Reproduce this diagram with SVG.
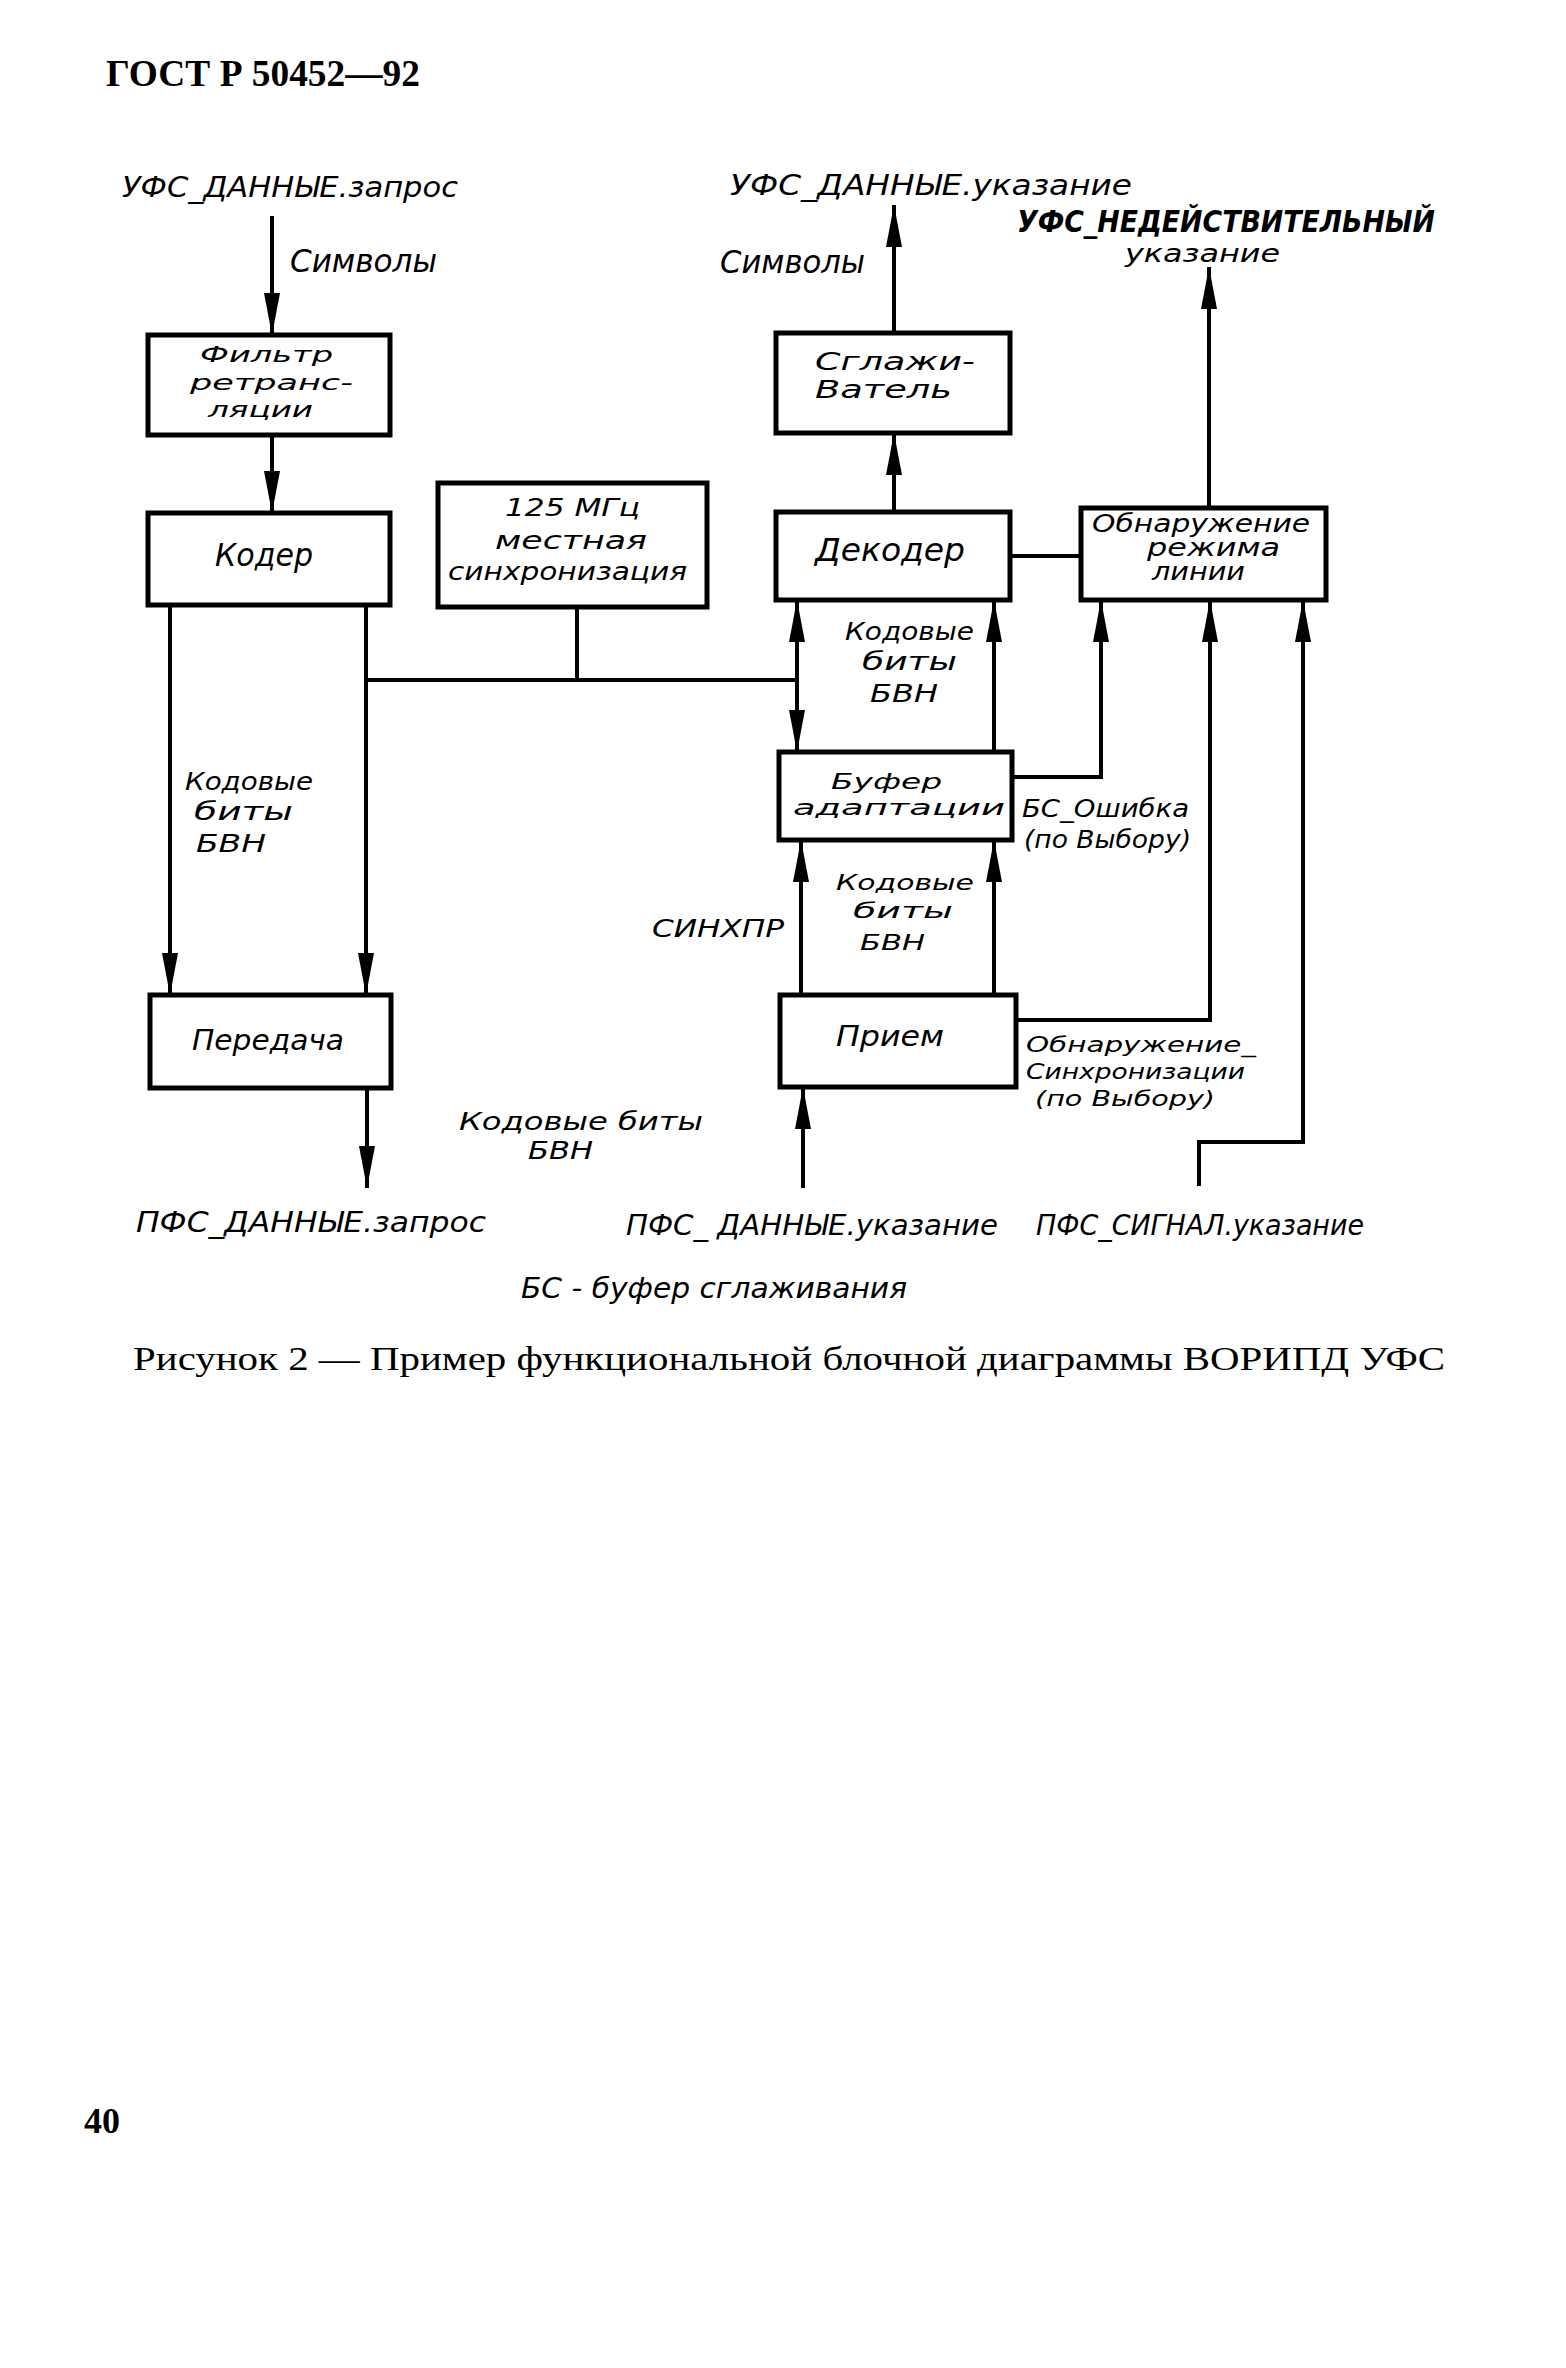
<svg xmlns="http://www.w3.org/2000/svg" width="1566" height="2368" viewBox="0 0 1566 2368">
<style>
.bg{fill:#fff}
.box{fill:none;stroke:#000;stroke-width:5}
.ln{fill:none;stroke:#000;stroke-width:4}
.t{font-family:"DejaVu Sans Condensed","Liberation Sans Narrow","Liberation Sans",sans-serif;font-style:italic;fill:#000;font-size:24px}
.m{font-size:28px}
.b{font-size:32px}
.s{font-size:22px}
.big{font-size:30px;font-weight:bold}
.serif{font-family:"Liberation Serif","DejaVu Serif",serif;fill:#000}
</style>
<defs>
<marker id="ah" viewBox="0 0 42 16" refX="42" refY="8" markerWidth="42" markerHeight="16" markerUnits="userSpaceOnUse" orient="auto">
<path d="M0,0 L42,8 L0,16 Z" fill="#000"/>
</marker>
</defs>
<rect class="bg" x="0" y="0" width="1566" height="2368"/>

<text class="serif" x="106" y="86" font-size="38" font-weight="bold" textLength="314" lengthAdjust="spacingAndGlyphs">ГОСТ Р 50452—92</text>

<g id="connectors">
<path class="ln" d="M272,216 V335" marker-end="url(#ah)"/>
<path class="ln" d="M272,435 V513" marker-end="url(#ah)"/>
<path class="ln" d="M170,605 V995" marker-end="url(#ah)"/>
<path class="ln" d="M366,605 V995" marker-end="url(#ah)"/>
<path class="ln" d="M577,607 V680"/>
<path class="ln" d="M366,680 H797"/>
<path class="ln" d="M367,1088 V1188" marker-end="url(#ah)"/>
<path class="ln" d="M797,680 V600" marker-end="url(#ah)"/>
<path class="ln" d="M797,680 V752" marker-end="url(#ah)"/>
<path class="ln" d="M994,752 V600" marker-end="url(#ah)"/>
<path class="ln" d="M1012,777 H1101 V600" marker-end="url(#ah)"/>
<path class="ln" d="M1016,1020 H1210 V600" marker-end="url(#ah)"/>
<path class="ln" d="M1199,1186 V1142 H1303 V600" marker-end="url(#ah)"/>
<path class="ln" d="M801,995 V840" marker-end="url(#ah)"/>
<path class="ln" d="M994,995 V840" marker-end="url(#ah)"/>
<path class="ln" d="M803,1188 V1087" marker-end="url(#ah)"/>
<path class="ln" d="M894,512 V433" marker-end="url(#ah)"/>
<path class="ln" d="M894,333 V205" marker-end="url(#ah)"/>
<path class="ln" d="M1010,556 H1081"/>
<path class="ln" d="M1209,508 V267" marker-end="url(#ah)"/>
</g>

<g id="filter">
<rect class="box" x="148" y="335" width="242" height="100"/>
<text class="t s" x="200" y="362" textLength="133" lengthAdjust="spacingAndGlyphs">Фильтр</text>
<text class="t s" x="190" y="390" textLength="163" lengthAdjust="spacingAndGlyphs">ретранс-</text>
<text class="t s" x="208" y="417" textLength="105" lengthAdjust="spacingAndGlyphs">ляции</text>
</g>

<g id="coder">
<rect class="box" x="148" y="513" width="242" height="92"/>
<text class="t b" x="215" y="566" textLength="98" lengthAdjust="spacingAndGlyphs">Кодер</text>
</g>

<g id="clock">
<rect class="box" x="438" y="483" width="269" height="124"/>
<text class="t" x="505" y="516" textLength="135" lengthAdjust="spacingAndGlyphs">125 МГц</text>
<text class="t" x="495" y="549" textLength="152" lengthAdjust="spacingAndGlyphs">местная</text>
<text class="t" x="448" y="580" textLength="239" lengthAdjust="spacingAndGlyphs">синхронизация</text>
</g>

<g id="transmit">
<rect class="box" x="150" y="995" width="241" height="93"/>
<text class="t m" x="192" y="1050" textLength="152" lengthAdjust="spacingAndGlyphs">Передача</text>
</g>

<g id="smoother">
<rect class="box" x="776" y="333" width="234" height="100"/>
<text class="t" x="815" y="370" textLength="160" lengthAdjust="spacingAndGlyphs">Сглажи-</text>
<text class="t" x="815" y="398" textLength="137" lengthAdjust="spacingAndGlyphs">Ватель</text>
</g>

<g id="decoder">
<rect class="box" x="776" y="512" width="234" height="88"/>
<text class="t b" x="815" y="561" textLength="150" lengthAdjust="spacingAndGlyphs">Декодер</text>
</g>

<g id="linemode">
<rect class="box" x="1081" y="508" width="245" height="92"/>
<text class="t" x="1092" y="532" font-size="20" textLength="218" lengthAdjust="spacingAndGlyphs">Обнаружение</text>
<text class="t" x="1147" y="556" font-size="20" textLength="133" lengthAdjust="spacingAndGlyphs">режима</text>
<text class="t" x="1152" y="580" font-size="20" textLength="93" lengthAdjust="spacingAndGlyphs">линии</text>
</g>

<g id="buffer">
<rect class="box" x="779" y="752" width="233" height="88"/>
<text class="t s" x="831" y="789" textLength="111" lengthAdjust="spacingAndGlyphs">Буфер</text>
<text class="t s" x="793" y="815" textLength="212" lengthAdjust="spacingAndGlyphs">адаптации</text>
</g>

<g id="receive">
<rect class="box" x="780" y="995" width="236" height="92"/>
<text class="t m" x="836" y="1046" textLength="108" lengthAdjust="spacingAndGlyphs">Прием</text>
</g>

<g id="labels">
<text class="t m" x="122" y="197" textLength="336" lengthAdjust="spacingAndGlyphs">УФС_ДАННЫЕ.запрос</text>
<text class="t b" x="290" y="272" textLength="147" lengthAdjust="spacingAndGlyphs">Символы</text>
<text class="t m" x="730" y="195" textLength="402" lengthAdjust="spacingAndGlyphs">УФС_ДАННЫЕ.указание</text>
<text class="t b" x="720" y="273" textLength="145" lengthAdjust="spacingAndGlyphs">Символы</text>
<text class="t big" x="1017" y="232" textLength="418" lengthAdjust="spacingAndGlyphs">УФС_НЕДЕЙСТВИТЕЛЬНЫЙ</text>
<text class="t" x="1125" y="262" textLength="155" lengthAdjust="spacingAndGlyphs">указание</text>

<text class="t" x="185" y="790" textLength="128" lengthAdjust="spacingAndGlyphs">Кодовые</text>
<text class="t" x="194" y="820" textLength="99" lengthAdjust="spacingAndGlyphs">биты</text>
<text class="t" x="196" y="852" textLength="70" lengthAdjust="spacingAndGlyphs">БВН</text>

<text class="t" x="845" y="640" textLength="129" lengthAdjust="spacingAndGlyphs">Кодовые</text>
<text class="t" x="862" y="670" textLength="95" lengthAdjust="spacingAndGlyphs">биты</text>
<text class="t" x="870" y="702" textLength="68" lengthAdjust="spacingAndGlyphs">БВН</text>

<text class="t" x="1022" y="817" textLength="167" lengthAdjust="spacingAndGlyphs">БС_Ошибка</text>
<text class="t" x="1024" y="848" textLength="167" lengthAdjust="spacingAndGlyphs">(по Выбору)</text>

<text class="t s" x="836" y="890" textLength="138" lengthAdjust="spacingAndGlyphs">Кодовые</text>
<text class="t s" x="853" y="918" textLength="100" lengthAdjust="spacingAndGlyphs">биты</text>
<text class="t s" x="860" y="950" textLength="65" lengthAdjust="spacingAndGlyphs">БВН</text>

<text class="t" x="652" y="937" textLength="132" lengthAdjust="spacingAndGlyphs">СИНХПР</text>

<text class="t s" x="1026" y="1052" textLength="230" lengthAdjust="spacingAndGlyphs">Обнаружение_</text>
<text class="t s" x="1026" y="1079" textLength="219" lengthAdjust="spacingAndGlyphs">Синхронизации</text>
<text class="t s" x="1035" y="1106" textLength="180" lengthAdjust="spacingAndGlyphs">(по Выбору)</text>

<text class="t" x="459" y="1130" textLength="244" lengthAdjust="spacingAndGlyphs">Кодовые биты</text>
<text class="t" x="528" y="1159" textLength="65" lengthAdjust="spacingAndGlyphs">БВН</text>

<text class="t m" x="136" y="1232" textLength="350" lengthAdjust="spacingAndGlyphs">ПФС_ДАННЫЕ.запрос</text>
<text class="t m" x="626" y="1235" textLength="372" lengthAdjust="spacingAndGlyphs">ПФС_ ДАННЫЕ.указание</text>
<text class="t m" x="1036" y="1235" textLength="328" lengthAdjust="spacingAndGlyphs">ПФС_СИГНАЛ.указание</text>
<text class="t m" x="521" y="1298" textLength="386" lengthAdjust="spacingAndGlyphs">БС - буфер сглаживания</text>
</g>

<text class="serif" x="133" y="1370" font-size="34" textLength="1312" lengthAdjust="spacingAndGlyphs">Рисунок 2 — Пример функциональной блочной диаграммы ВОРИПД УФС</text>
<text class="serif" x="84" y="2133" font-size="36" font-weight="bold">40</text>
</svg>
